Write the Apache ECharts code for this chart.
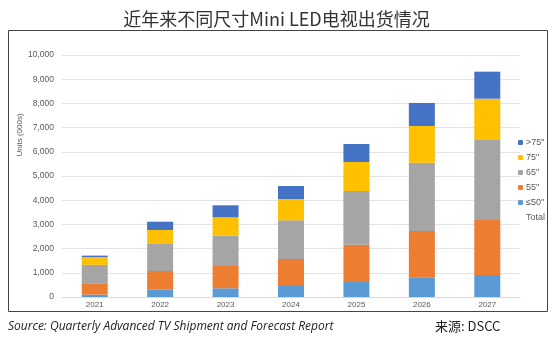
<!DOCTYPE html>
<html><head><meta charset="utf-8">
<script src="https://cdn.jsdelivr.net/npm/echarts@6/dist/echarts.min.js"></script>
<style>html,body{margin:0;padding:0;background:#fff}#c{width:553px;height:345px}</style>
</head><body><div id="c"></div>
<script>
const years = ['2021','2022','2023','2024','2025','2026','2027'];
const s50 = [100, 318, 360, 455, 620, 800, 909];
const s55 = [470, 756, 921, 1115, 1543, 1928, 2273];
const s65 = [760, 1144, 1252, 1598, 2217, 2824, 3306];
const s75 = [320, 551, 760, 882, 1199, 1515, 1707];
const sOver75 = [60, 343, 496, 537, 743, 951, 1116];
const yTicks = [0,1000,2000,3000,4000,5000,6000,7000,8000,9000,10000];
const totals = years.map((_, i) => s50[i] + s55[i] + s65[i] + s75[i] + sOver75[i]);

const chart = echarts.init(document.getElementById('c'), null, {renderer:'canvas'});
const font = 'Liberation Sans, Arial, sans-serif';
function bar(name, data, color) {
  return {name, type:'bar', stack:'a', data, barWidth:26, itemStyle:{color}};
}
chart.setOption({
  animation:false,
  title:{text:'近年来不同尺寸Mini LED电视出货情况', left:'center', top:5,
    textStyle:{fontFamily:'Noto Sans CJK SC', fontWeight:'normal', fontSize:18, color:'#333'}},
  grid:{left:62, right:33, top:55, bottom:48},
  legend:{orient:'vertical', left:513, top:133, itemWidth:5, itemHeight:5, itemGap:6,
    textStyle:{fontFamily:font, fontSize:9, color:'#595959', padding:[0,0,0,-2]},
    data:[{name:'>75"'},{name:'75"'},{name:'65"'},{name:'55"'},{name:'≤50"'},
      {name:'Total', icon:'rect', itemStyle:{color:'rgba(0,0,0,0)'}}]},
  xAxis:{type:'category', data:years,
    axisLine:{lineStyle:{color:'#d9d9d9'}}, axisTick:{show:false},
    axisLabel:{fontFamily:font, fontSize:8, color:'#595959', margin:4}},
  yAxis:{type:'value', min:0, max:10000, interval:1000,
    axisLine:{show:false}, axisTick:{show:false},
    splitLine:{lineStyle:{color:'#e3e3e3'}},
    axisLabel:{fontFamily:font, fontSize:8.5, color:'#595959', margin:8,
      formatter:v => yTicks.includes(v) ? v.toLocaleString('en-US') : ''}},
  series:[
    bar('≤50"', s50, '#5B9BD5'),
    bar('55"', s55, '#ED7D31'),
    bar('65"', s65, '#A5A5A5'),
    bar('75"', s75, '#FFC000'),
    bar('>75"', sOver75, '#4472C4'),
    {name:'Total', type:'line', data:totals, symbol:'none', lineStyle:{opacity:0}, itemStyle:{color:'rgba(0,0,0,0)'}, silent:true}
  ],
  graphic:[
    {type:'rect', shape:{x:8.5, y:30.5, width:539, height:281}, style:{fill:'none', stroke:'#444', lineWidth:1}, z:-1},
    {type:'text', x:20, y:135, rotation:Math.PI/2, style:{text:'Units (000s)', fontFamily:font, fontSize:8, fill:'#595959', textAlign:'center', textVerticalAlign:'middle'}},
    {type:'text', left:8, top:321, style:{text:'Source: Quarterly Advanced TV Shipment and Forecast Report', fontFamily:'Open Sans, sans-serif', fontStyle:'italic', fontSize:12, fill:'#222'}},
    {type:'text', left:435, top:320, style:{text:'来源: DSCC', fontFamily:'Noto Sans CJK SC', fontSize:13, fill:'#222'}}
  ]
});
</script></body></html>
